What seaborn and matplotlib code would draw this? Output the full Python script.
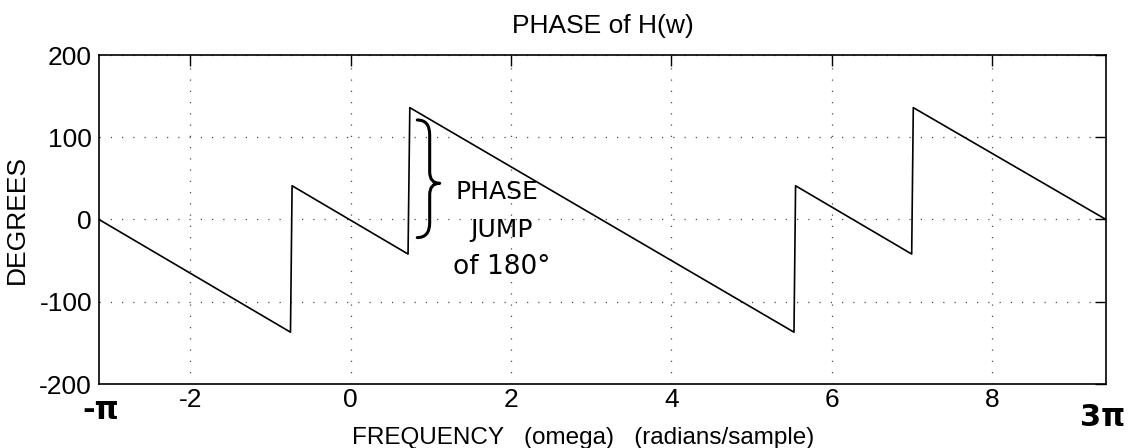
import seaborn as sns
import matplotlib.pyplot as plt
import pandas as pd
import numpy as np
from matplotlib.path import Path
from matplotlib.patches import PathPatch

sns.set_style("white")
plt.rcParams["font.family"] = ["Liberation Sans", "DejaVu Sans"]
plt.rcParams["axes.unicode_minus"] = False
plt.rcParams["text.color"] = "black"
plt.rcParams["axes.labelcolor"] = "black"

# corner points of the phase curve
omega = [-3.1416, -0.752, -0.732, 0.715, 0.737, 5.531, 5.551, 7.000, 7.020, 9.4248]
phase_deg = [0, -137, 41, -42, 136, -137, 41, -42, 136, 0]

x_ticks = [-2, 0, 2, 4, 6, 8]
y_ticks = [-200, -100, 0, 100, 200]

df = pd.DataFrame({"omega": omega, "degrees": phase_deg})

fig = plt.figure(figsize=(11.33, 4.48), dpi=100)
ax = fig.add_axes([99 / 1133, 1 - 384 / 448, 1007 / 1133, 329 / 448])

sns.lineplot(data=df, x="omega", y="degrees", estimator=None, sort=False,
             color="black", linewidth=1.2, ax=ax)

ax.set_xlim(-np.pi, 3 * np.pi)
ax.set_ylim(-200, 200)
ax.set_xticks(x_ticks)
ax.set_yticks(y_ticks)
ax.grid(True, linestyle=(0, (1, 8)), color="0.3", linewidth=0.9)

for s in ax.spines.values():
    s.set_visible(True)
    s.set_color("black")
    s.set_linewidth(1.2)

ax.tick_params(direction="in", length=8, width=1, top=True, right=True,
               labelsize=19, colors="black")
ax.tick_params(axis="x", pad=3)
ax.tick_params(axis="y", pad=5)

ax.set_title("PHASE of H(w)", fontsize=19, pad=16, color="black")
ax.set_xlabel("FREQUENCY   (omega)   (radians/sample)", fontsize=17.5)
ax.set_ylabel("DEGREES", fontsize=19)
ax.xaxis.set_label_coords(0.4806, -0.13)
ax.yaxis.set_label_coords(-0.07, 0.5)

# handwritten notes
hand = dict(family="DejaVu Sans", color="black", clip_on=False)
ax.text(-3.12, -232, "-π", fontsize=22, fontweight="bold", ha="center", va="center", **hand)
ax.text(9.38, -241, "3π", fontsize=22, fontweight="bold", ha="center", va="center", **hand)
ax.text(1.825, 33, "PHASE", fontsize=18, ha="center", va="center", **hand)
ax.text(1.876, -13, "JUMP", fontsize=18, ha="center", va="center", **hand)
ax.text(1.888, -58, "of 180°", fontsize=19, ha="center", va="center", **hand)

# curly brace next to the jump
x0, xm, x1 = 0.83, 0.985, 1.11
ytop, ymid, ybot = 121, 44, -22
verts = [(x0, ytop), (xm, ytop), (xm, ytop - 18),
         (xm, ymid + 14),
         (xm, ymid), (x1, ymid),
         (xm, ymid), (xm, ymid - 14),
         (xm, ybot + 18),
         (xm, ybot), (x0, ybot)]
codes = [Path.MOVETO, Path.CURVE3, Path.CURVE3,
         Path.LINETO,
         Path.CURVE3, Path.CURVE3,
         Path.CURVE3, Path.CURVE3,
         Path.LINETO,
         Path.CURVE3, Path.CURVE3]
ax.add_patch(PathPatch(Path(verts, codes), fill=False, lw=2.2, color="black",
                       capstyle="round", joinstyle="round"))

plt.savefig("out.png", dpi=100)
plt.close()
